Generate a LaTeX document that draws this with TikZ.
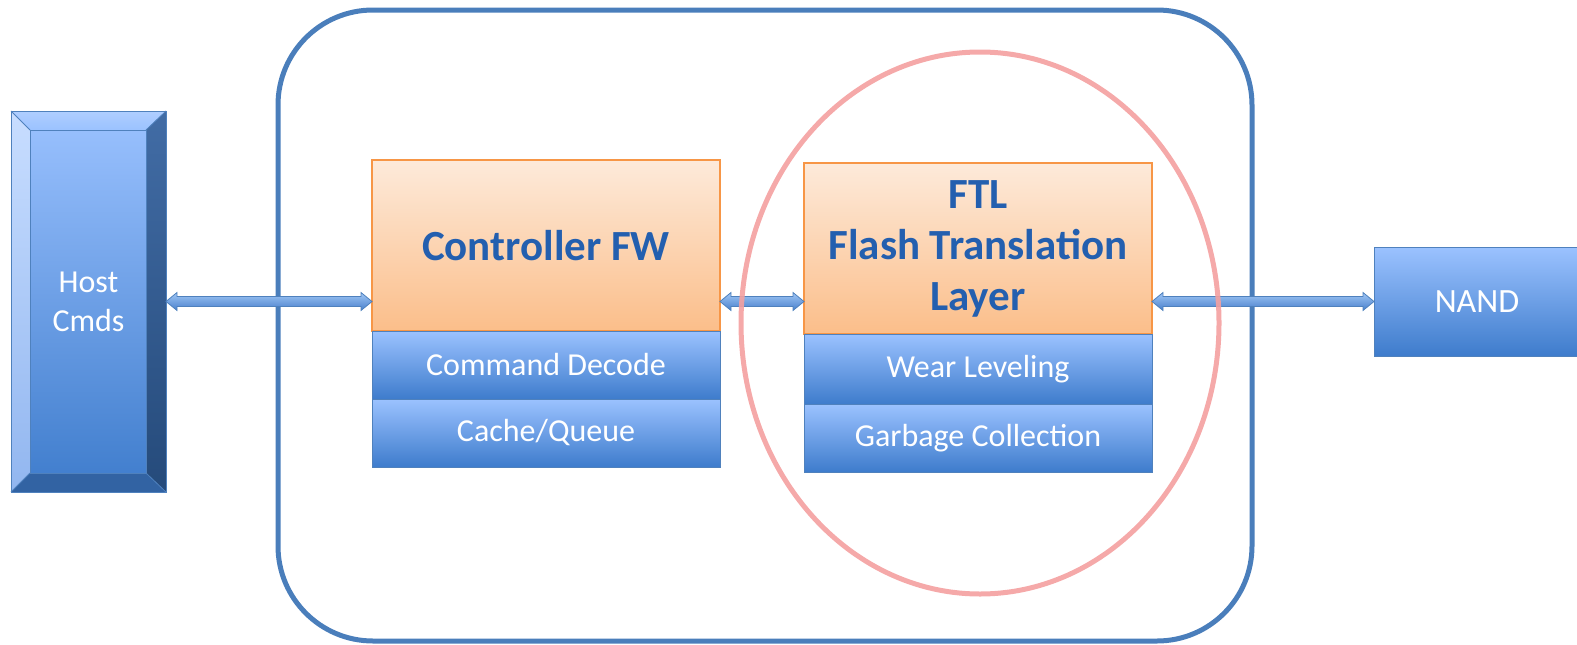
\documentclass[tikz,border=0pt]{standalone}
\usepackage{fontspec}
\setmainfont{Carlito}
\usepackage{tikz}
\usetikzlibrary{calc,positioning}

\definecolor{framebl}{RGB}{74,126,187}
\definecolor{ringred}{RGB}{244,160,160}
\definecolor{orgline}{RGB}{247,150,70}
\definecolor{orgtop}{RGB}{253,234,218}
\definecolor{orgbot}{RGB}{251,190,138}
\definecolor{bltop}{RGB}{155,194,255}
\definecolor{blbot}{RGB}{62,124,204}
\definecolor{blline}{RGB}{79,129,189}
\definecolor{titlebl}{RGB}{35,95,175}
\definecolor{arrtop}{RGB}{160,198,245}
\definecolor{arrbot}{RGB}{72,128,204}

\tikzset{
  fwbox/.style={draw=orgline, line width=1.2pt, top color=orgtop, bottom color=orgbot,
    minimum width=348pt, minimum height=171pt, inner sep=0pt, outer sep=0pt,
    align=center, text=titlebl, font=\fontsize{43}{51}\selectfont\bfseries},
  subbox/.style={draw=blline, line width=1pt, top color=bltop, bottom color=blbot,
    minimum width=348pt, inner sep=0pt, outer sep=0pt, text=white,
    font=\fontsize{32}{38}\selectfont},
  hostbox/.style={top color=bltop, bottom color=blbot, minimum width=155pt,
    minimum height=381pt, inner sep=0pt, outer sep=0pt, align=center, text=white,
    font=\fontsize{32}{39}\selectfont},
  blockarrow/.style={draw=blline, line width=0.8pt, top color=arrtop, bottom color=arrbot,
    to path={let \p1=(\tikztostart), \p2=(\tikztotarget) in
      (\x1,\y1) -- (\x1+11pt,\y1+9pt) -- (\x1+11pt,\y1+5pt) -- (\x2-11pt,\y1+5pt)
      -- (\x2-11pt,\y1+9pt) -- (\x2,\y1) -- (\x2-11pt,\y1-9pt) -- (\x2-11pt,\y1-5pt)
      -- (\x1+11pt,\y1-5pt) -- (\x1+11pt,\y1-9pt) -- cycle}}
}

\begin{document}
\begin{tikzpicture}[x=1pt,y=-1pt]
	\useasboundingbox (0,0) rectangle (1577,645);
	% outer frame
	\draw[framebl, line width=5pt, rounded corners=95pt] (278,10) rectangle (1252,641);
	% host
	\node (host) [hostbox, anchor=north west] at (11,111) {Host\\Cmds};
	\shade[top color=bltop!55, bottom color=bltop!85!black!40!bltop] (host.north west) -- ($(host.north west)+(19,19)$) -- ($(host.south west)+(19,-19)$) -- (host.south west) -- cycle;
	\shade[top color=bltop!80, bottom color=bltop] (host.north west) -- (host.north east) -- ($(host.north east)+(-20,19)$) -- ($(host.north west)+(19,19)$) -- cycle;
	\shade[top color=blbot!70!black!80!bltop, bottom color=blbot!60!black] (host.north east) -- (host.south east) -- ($(host.south east)+(-20,-19)$) -- ($(host.north east)+(-20,19)$) -- cycle;
	\fill[blbot!80!black] (host.south west) -- (host.south east) -- ($(host.south east)+(-20,-19)$) -- ($(host.south west)+(19,-19)$) -- cycle;
	\draw[blline, line width=1pt] (host.north west) rectangle (host.south east);
	\draw[blline, line width=0.8pt] ($(host.north west)+(19,19)$) rectangle ($(host.south east)+(-20,-19)$);
	\draw[blline, line width=0.8pt] (host.north west) -- ++(19,19) (host.north east) -- ++(-20,19) (host.south west) -- ++(19,-19) (host.south east) -- ++(-20,-19);
	% controller
	\node (ctrl) [fwbox, anchor=north west] at (372,160) {Controller FW};
	\node (cmd) [subbox, minimum height=68pt, below=0pt of ctrl] {Command Decode};
	\node (cache) [subbox, minimum height=68pt, below=0pt of cmd] {Cache/Queue};
	% ftl
	\node (ftl) [fwbox, right=84pt of ctrl, yshift=-3pt] {FTL\\Flash Translation\\Layer};
	\node (wear) [subbox, minimum height=70pt, below=0pt of ftl] {Wear Leveling};
	\node (gc) [subbox, minimum height=68pt, below=0pt of wear] {Garbage Collection};
	% nand
	\node (nand) [subbox, minimum width=206pt, minimum height=109pt, anchor=north west, font=\fontsize{34}{40}\selectfont] at (1374,247) {NAND};
	% links
	\draw[blockarrow] (host.east) to (ctrl.west |- host.east);
	\draw[blockarrow] (ctrl.east |- host.east) to (ftl.west |- host.east);
	\draw[blockarrow] (ftl.east |- nand.west) to (nand.west);
	% ftl ring
	\draw[ringred, line width=5pt, opacity=.9] (980,323) ellipse [x radius=239pt, y radius=271pt];
\end{tikzpicture}
\end{document}
